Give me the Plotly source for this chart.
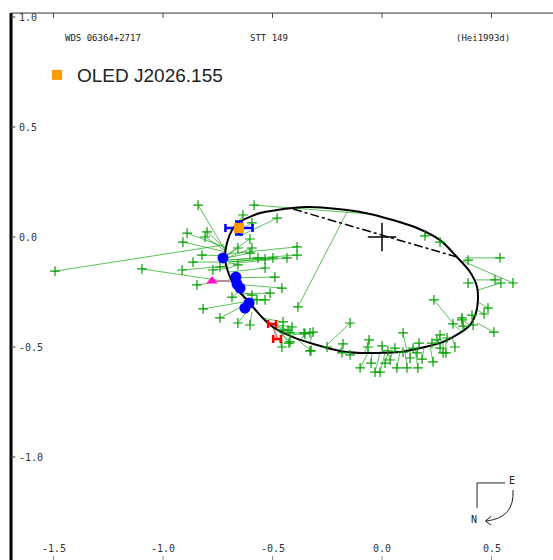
import plotly.graph_objects as go

# ---------------- data (arcsec) ----------------
ell_x = [-0.717, -0.708, -0.685, -0.658, -0.616, -0.557, -0.479, -0.406, -0.342, -0.251, -0.160, -0.055,
         0.050, 0.160, 0.265, 0.342, 0.402, 0.434, 0.438, 0.429, 0.402, 0.356, 0.279, 0.174, 0.082,
         -0.023, -0.100, -0.192, -0.297, -0.406, -0.498, -0.557, -0.616, -0.671, -0.703, -0.717]
ell_y = [-0.091, -0.027, 0.032, 0.064, 0.086, 0.109, 0.123, 0.132, 0.136, 0.132, 0.123, 0.105,
         0.077, 0.041, -0.014, -0.091, -0.159, -0.227, -0.286, -0.345, -0.400, -0.436, -0.477, -0.505, -0.523,
         -0.527, -0.527, -0.518, -0.491, -0.455, -0.409, -0.355, -0.286, -0.227, -0.159, -0.091]

node_x = [-0.406, 0.342]
node_y = [0.127, -0.091]

obs_x = [-1.493, -1.096, -0.840, -0.584, -0.635, -0.594, -0.479, -0.890, -0.799, -0.808,
         -0.603, -0.909, -0.822, -0.658, -0.594, -0.566, -0.603, -0.534, -0.498, -0.434,
         -0.388, -0.388, -0.863, -0.913, -0.772, -0.740, -0.658, -0.534, -0.489, -0.845,
         -0.457, -0.685, -0.817, -0.740, -0.658, -0.603, -0.534, -0.511, -0.571, -0.384,
         -0.452, -0.452, -0.429, -0.457, -0.420, -0.411, -0.420, -0.425, -0.356, -0.329,
         -0.324, -0.594, -0.146, -0.352, -0.315, -0.329, -0.251, -0.178, -0.183, -0.146,
         -0.059, -0.064, -0.100, -0.050, -0.032, -0.009, 0.000, 0.027, 0.037, 0.014,
         0.059, 0.068, 0.096, 0.114, 0.096, 0.142, 0.169, 0.160, 0.183, 0.164,
         0.228, 0.233, 0.265, 0.265, 0.279, 0.297, 0.292, 0.333, 0.237, 0.365,
         0.370, 0.416, 0.411, 0.251, 0.128, 0.539, 0.598, 0.393, 0.516, 0.543,
         0.393, 0.484, 0.466, 0.511, 0.365, 0.324, 0.196, 0.265]
obs_y = [-0.155, -0.145, 0.145, 0.145, 0.100, 0.064, 0.086, 0.018, 0.023, 0.000,
         -0.009, -0.023, -0.082, -0.050, -0.050, -0.095, -0.073, -0.100, -0.095, -0.095,
         -0.082, -0.045, -0.114, -0.150, -0.150, -0.136, -0.127, -0.141, -0.182, -0.218,
         -0.232, -0.273, -0.327, -0.368, -0.391, -0.400, -0.286, -0.255, -0.286, -0.318,
         -0.386, -0.423, -0.423, -0.500, -0.477, -0.409, -0.436, -0.482, -0.436, -0.436,
         -0.518, -0.264, -0.391, -0.441, -0.432, -0.518, -0.500, -0.486, -0.527, -0.536,
         -0.468, -0.500, -0.595, -0.573, -0.614, -0.614, -0.495, -0.518, -0.559, -0.573,
         -0.505, -0.595, -0.436, -0.595, -0.523, -0.505, -0.482, -0.527, -0.555, -0.595,
         -0.482, -0.568, -0.445, -0.505, -0.527, -0.459, -0.527, -0.500, -0.286, -0.368,
         -0.405, -0.400, -0.355, -0.468, -0.550, -0.095, -0.209, -0.105, -0.195, -0.209,
         -0.209, -0.323, -0.350, -0.432, -0.377, -0.395, 0.005, -0.023]
pred_x = [-0.721, -0.694, -0.717, -0.064, -0.667, -0.658, -0.648, -0.708, -0.708, -0.708,
          -0.703, -0.712, -0.712, -0.708, -0.708, -0.708, -0.708, -0.703, -0.703, -0.703,
          -0.703, -0.708, -0.712, -0.708, -0.703, -0.703, -0.703, -0.699, -0.689, -0.694,
          -0.680, -0.658, -0.630, -0.626, -0.612, -0.594, -0.635, -0.648, -0.635, -0.155,
          -0.548, -0.534, -0.521, -0.502, -0.489, -0.511, -0.484, -0.466, -0.429, -0.411,
          -0.393, -0.648, -0.251, -0.374, -0.329, -0.320, -0.260, -0.192, -0.169, -0.137,
          -0.078, -0.064, -0.064, -0.046, -0.009, 0.014, 0.005, 0.032, 0.046, 0.027,
          0.068, 0.082, 0.114, 0.105, 0.091, 0.137, 0.174, 0.164, 0.192, 0.151,
          0.228, 0.219, 0.256, 0.265, 0.279, 0.297, 0.292, 0.320, 0.324, 0.379,
          0.379, 0.402, 0.420, 0.265, 0.128, 0.379, 0.379, 0.365, 0.425, 0.438,
          0.420, 0.438, 0.434, 0.434, 0.402, 0.365, 0.201, 0.283]
pred_y = [-0.036, -0.205, -0.059, 0.105, 0.050, 0.023, 0.005, -0.050, -0.059, -0.068,
          -0.077, -0.068, -0.086, -0.086, -0.095, -0.105, -0.095, -0.114, -0.114, -0.123,
          -0.105, -0.077, -0.114, -0.132, -0.141, -0.132, -0.141, -0.159, -0.186, -0.195,
          -0.214, -0.250, -0.295, -0.309, -0.332, -0.341, -0.277, -0.259, -0.277, 0.123,
          -0.368, -0.377, -0.386, -0.405, -0.414, -0.395, -0.418, -0.427, -0.436, -0.445,
          -0.459, -0.250, -0.491, -0.468, -0.482, -0.491, -0.505, -0.514, -0.518, -0.523,
          -0.523, -0.523, -0.527, -0.527, -0.527, -0.527, -0.527, -0.527, -0.527, -0.527,
          -0.523, -0.523, -0.518, -0.518, -0.523, -0.514, -0.509, -0.509, -0.505, -0.514,
          -0.495, -0.495, -0.482, -0.482, -0.477, -0.468, -0.468, -0.455, -0.391, -0.423,
          -0.423, -0.400, -0.368, -0.482, -0.518, -0.095, -0.114, -0.114, -0.195, -0.241,
          -0.209, -0.295, -0.332, -0.391, -0.400, -0.432, 0.032, -0.027]

blue_x = [-0.726, -0.667, -0.662, -0.648, -0.607, -0.626]
blue_y = [-0.095, -0.182, -0.214, -0.232, -0.300, -0.323]

oled_x = [-0.653]
oled_y = [0.041]
oled_ex = [0.062]
oled_ey = [0.030]

tri_x = [-0.776]
tri_y = [-0.200]
tri_px = [-0.694]
tri_py = [-0.200]

red_x = [-0.502, -0.479]
red_y = [-0.395, -0.464]
red_px = [-0.507, -0.498]
red_py = [-0.391, -0.400]
red_ex = [0.018, 0.018]

xtick_vals = [-1.5, -1.0, -0.5, 0.0, 0.5]
xtick_text = ["-1.5", "-1.0", "-0.5", "0.0", "0.5"]
ytick_vals = [1.0, 0.5, 0.0, -0.5, -1.0]
ytick_text = ["1.0", "0.5", "0.0", "-0.5", "-1.0"]

header = ["WDS 06364+2717", "STT 149", "(Hei1993d)"]
header_x = [-1.455, -0.610, 0.330]

XR = [-1.7443, 0.7808]
YR = [-1.4682, 1.0773]
AX_X = -1.694      # left axis line position
TOP_Y = 1.018      # top axis line
MONO = "DejaVu Sans Mono"

fig = go.Figure()


def segs(x0, y0, x1, y1):
    xs, ys = [], []
    for a, b, c, d in zip(x0, y0, x1, y1):
        xs += [a, c, None]
        ys += [b, d, None]
    return xs, ys


# residual lines
sx, sy = segs(obs_x, obs_y, pred_x, pred_y)
fig.add_trace(go.Scatter(x=sx, y=sy, mode="lines", line=dict(color="rgba(20,170,20,0.7)", width=1),
                         hoverinfo="skip", showlegend=False))
# magenta + red residual lines
tx, ty = segs(tri_x, tri_y, tri_px, tri_py)
fig.add_trace(go.Scatter(x=tx, y=ty, mode="lines", line=dict(color="rgba(255,80,200,0.7)", width=1.5),
                         hoverinfo="skip", showlegend=False))
rx, ry = segs(red_x, red_y, red_px, red_py)
fig.add_trace(go.Scatter(x=rx, y=ry, mode="lines", line=dict(color="rgba(255,90,90,0.6)", width=2),
                         hoverinfo="skip", showlegend=False))

# orbit ellipse
fig.add_trace(go.Scatter(x=ell_x, y=ell_y, mode="lines", line=dict(color="black", width=2, shape="spline"),
                         hoverinfo="skip", showlegend=False))
# line of nodes
fig.add_trace(go.Scatter(x=node_x, y=node_y, mode="lines", line=dict(color="black", width=1.5, dash="dashdot"),
                         hoverinfo="skip", showlegend=False))

# observations
fig.add_trace(go.Scatter(x=obs_x, y=obs_y, mode="markers",
                         marker=dict(symbol="cross-thin", size=7, line=dict(color="#00a000", width=1.2)),
                         showlegend=False))

# blue dots
fig.add_trace(go.Scatter(x=blue_x, y=blue_y, mode="markers",
                         marker=dict(color="#0000ff", size=11), showlegend=False))

# magenta triangle
fig.add_trace(go.Scatter(x=tri_x, y=tri_y, mode="markers",
                         marker=dict(symbol="triangle-up", color="#ff10c8", size=10), showlegend=False))

# red H error bars
fig.add_trace(go.Scatter(x=red_x, y=red_y, mode="markers", marker=dict(size=1, color="red", opacity=0),
                         error_x=dict(type="data", array=red_ex, color="red", thickness=2.5, width=4),
                         showlegend=False))

# OLED prediction with error bars
fig.add_trace(go.Scatter(x=oled_x, y=oled_y, mode="markers", marker=dict(size=1, color="blue", opacity=0),
                         error_x=dict(type="data", array=oled_ex, color="#0000ff", thickness=2.5, width=4),
                         error_y=dict(type="data", array=oled_ey, color="#0000ff", thickness=2.5, width=4),
                         showlegend=False))
fig.add_trace(go.Scatter(x=oled_x, y=oled_y, mode="markers", name="OLED J2026.155",
                         marker=dict(symbol="square", color="#ff9900", size=10), showlegend=True))

# ---- shapes: axes, ticks, centre cross, compass ----
shapes = []
shapes.append(dict(type="line", x0=AX_X, x1=AX_X, y0=YR[0], y1=TOP_Y, line=dict(color="black", width=3)))
shapes.append(dict(type="line", x0=AX_X, x1=XR[1], y0=TOP_Y, y1=TOP_Y, line=dict(color="#333", width=1)))
for v in ytick_vals:
    shapes.append(dict(type="line", x0=AX_X, x1=AX_X + 0.02, y0=v, y1=v, line=dict(color="#444", width=1)))
for v in xtick_vals:
    shapes.append(dict(type="line", x0=v, x1=v, y0=TOP_Y, y1=TOP_Y - 0.022, line=dict(color="#444", width=1)))
    shapes.append(dict(type="line", x0=v, x1=v, y0=YR[0], y1=YR[0] + 0.018, line=dict(color="#888", width=1)))
# primary star cross
shapes.append(dict(type="line", x0=-0.065, x1=0.065, y0=0, y1=0, line=dict(color="black", width=1.5)))
shapes.append(dict(type="line", x0=0, x1=0, y0=-0.065, y1=0.065, line=dict(color="black", width=1.5)))
# compass
shapes.append(dict(type="path", path="M 0.562,-1.118 L 0.434,-1.118 L 0.434,-1.232",
                   line=dict(color="#222", width=1)))
shapes.append(dict(type="path", path="M 0.598,-1.150 Q 0.607,-1.277 0.475,-1.291",
                   line=dict(color="#222", width=1)))
shapes.append(dict(type="path", path="M 0.498,-1.270 L 0.472,-1.291 L 0.498,-1.309",
                   line=dict(color="#222", width=1)))
fig.update_layout(shapes=shapes)

# ---- annotations ----
ann = []
for v, t in zip(ytick_vals, ytick_text):
    ann.append(dict(x=AX_X + 0.026, y=v, text=t, showarrow=False, xanchor="left", yanchor="middle",
                    font=dict(family=MONO, size=10, color="#333")))
for v, t in zip(xtick_vals, xtick_text):
    ann.append(dict(x=v, y=-1.418, text=t, showarrow=False, xanchor="center", yanchor="middle",
                    font=dict(family=MONO, size=10, color="#333")))
for xv, t in zip(header_x, header):
    ann.append(dict(x=xv, y=0.906, text=t, showarrow=False, xanchor="left", yanchor="middle",
                    font=dict(family=MONO, size=9, color="#222")))
ann.append(dict(x=0.594, y=-1.109, text="E", showarrow=False, xanchor="center", yanchor="middle",
                font=dict(family=MONO, size=10, color="#222")))
ann.append(dict(x=0.420, y=-1.286, text="N", showarrow=False, xanchor="center", yanchor="middle",
                font=dict(family=MONO, size=10, color="#222")))
fig.update_layout(annotations=ann)

fig.update_layout(
    width=553, height=560, autosize=False,
    margin=dict(l=0, r=0, t=0, b=0, pad=0),
    paper_bgcolor="white", plot_bgcolor="white",
    xaxis=dict(range=XR, visible=False, fixedrange=True),
    yaxis=dict(range=YR, visible=False, fixedrange=True),
    legend=dict(x=37 / 553, y=1 - 56 / 560, xanchor="left", yanchor="top", bgcolor="rgba(0,0,0,0)",
                font=dict(family="Liberation Sans", size=19, color="#222")),
    showlegend=True,
)

fig.write_html("out.html", config={"displayModeBar": False},
               post_script="document.body.style.margin='0';")
